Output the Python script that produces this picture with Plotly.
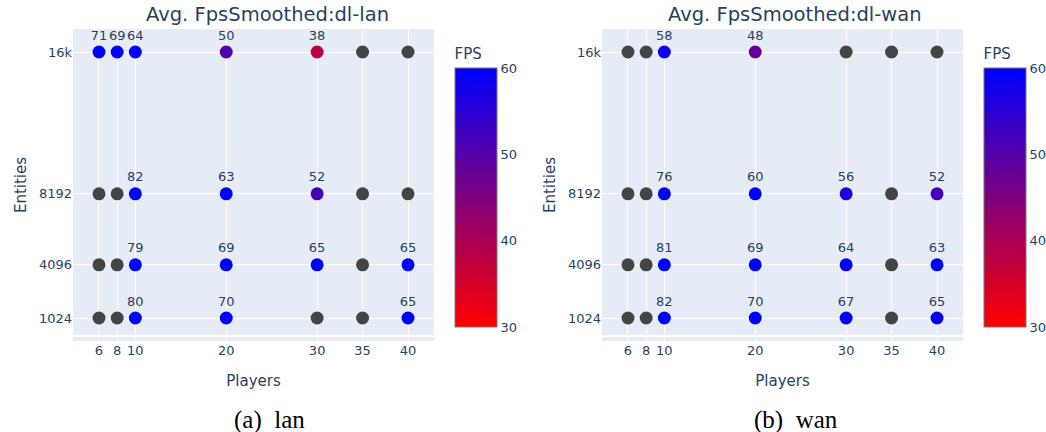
import numpy as np
import plotly.graph_objects as go

# ---- data ----
players = [6, 8, 10, 20, 30, 35, 40]
entities = [1024, 4096, 8192, 16384]
entity_ticktext = ["1024", "4096", "8192", "16k"]

# rows follow `entities`, columns follow `players`; None = no data (drawn grey)
fps_lan = [
    [None, None, 80, 70, None, None, 65],   # 1024
    [None, None, 79, 69, 65, None, 65],     # 4096
    [None, None, 82, 63, 52, None, None],   # 8192
    [71, 69, 64, 50, 38, None, None],       # 16k
]
fps_wan = [
    [None, None, 82, 70, 67, None, 65],     # 1024
    [None, None, 81, 69, 64, None, 63],     # 4096
    [None, None, 76, 60, 56, None, 52],     # 8192
    [None, None, 58, 48, None, None, None], # 16k
]
titles = ["Avg. FpsSmoothed:dl-lan", "Avg. FpsSmoothed:dl-wan"]
captions = ["(a)\u00a0\u00a0lan", "(b)\u00a0\u00a0wan"]
colorbar_ticks = [30, 40, 50, 60]

# ---- layout geometry (pixels) ----
W, H = 1046, 432
FONT = "DejaVu Sans"
TXT = "#2a3f5f"

def px_x(p):
    return p / W

def px_y(p):
    return 1 - p / H

panels = [
    dict(vals=fps_lan, left=73, right=434, cb=455, title_c=267.5, cap_c=269),
    dict(vals=fps_wan, left=602, right=963, cb=984, title_c=795, cap_c=796),
]
plot_top, plot_bot = 29, 341

fig = go.Figure()
annotations = []
for i, pn in enumerate(panels):
    xs, ys, cs, ts = [], [], [], []
    for r, ent in enumerate(entities):
        for c, pl in enumerate(players):
            v = pn["vals"][r][c]
            xs.append(pl)
            ys.append(ent)
            cs.append(np.nan if v is None else float(v))
            ts.append("" if v is None else f"{v:.0f}")
    suffix = "" if i == 0 else str(i + 1)
    fig.add_trace(go.Scatter(
        x=xs, y=ys, mode="markers+text", text=ts, textposition="top center",
        textfont=dict(family=FONT, size=13, color=TXT),
        marker=dict(size=13, color=np.array(cs, dtype=float), coloraxis="coloraxis" + suffix),
        xaxis="x" + suffix, yaxis="y" + suffix, showlegend=False,
        cliponaxis=False,
    ))
    ax = dict(
        domain=[px_x(pn["left"]), px_x(pn["right"])],
        range=[3.14, 42.86], tickvals=players, ticktext=[str(p) for p in players],
        tickfont=dict(family=FONT, size=13, color=TXT),
        title=dict(text="Players", font=dict(family=FONT, size=15, color=TXT), standoff=18),
        gridcolor="white", showline=False, zeroline=False,
    )
    ay = dict(
        domain=[px_y(plot_bot), px_y(plot_top)],
        range=[-304, 17712], tickvals=entities, ticktext=entity_ticktext,
        tickfont=dict(family=FONT, size=13, color=TXT),
        title=dict(text="Entities", font=dict(family=FONT, size=15, color=TXT), standoff=8),
        gridcolor="white", zeroline=True, zerolinecolor="white", zerolinewidth=2,
    )
    if i == 1:
        ax["anchor"] = "y2"
        ay["anchor"] = "x2"
    fig.update_layout(**{"xaxis" + suffix: ax, "yaxis" + suffix: ay})
    fig.update_layout(**{"coloraxis" + suffix: dict(
        cmin=30, cmax=60,
        colorscale=[[0, "rgb(255,0,0)"], [1, "rgb(0,0,255)"]],
        colorbar=dict(
            title=dict(text="FPS", side="top", font=dict(family=FONT, size=15, color=TXT)),
            x=px_x(pn["cb"]), xanchor="left", xpad=0,
            y=px_y(327), yanchor="bottom", ypad=0,
            lenmode="pixels", len=282,
            thickness=42, thicknessmode="pixels",
            outlinewidth=1, outlinecolor="#777",
            tickvals=colorbar_ticks, ticks="",
            tickfont=dict(family=FONT, size=13, color=TXT),
        ),
    )})
    annotations.append(dict(
        text=titles[i], x=px_x(pn["title_c"]), y=px_y(14), xref="paper", yref="paper",
        xanchor="center", yanchor="middle", showarrow=False,
        font=dict(family=FONT, size=19.5, color=TXT),
    ))
    annotations.append(dict(
        text=captions[i], x=px_x(pn["cap_c"]), y=px_y(420), xref="paper", yref="paper",
        xanchor="center", yanchor="middle", showarrow=False,
        font=dict(family="Liberation Serif", size=25, color="black"),
    ))

fig.update_layout(
    width=W, height=H, margin=dict(l=0, r=0, t=0, b=0),
    paper_bgcolor="white", plot_bgcolor="#E5ECF6",
    font=dict(family=FONT, color=TXT),
    annotations=annotations,
)
fig.write_html("out.html", config={"displayModeBar": False},
               post_script="document.body.style.margin='0';")
